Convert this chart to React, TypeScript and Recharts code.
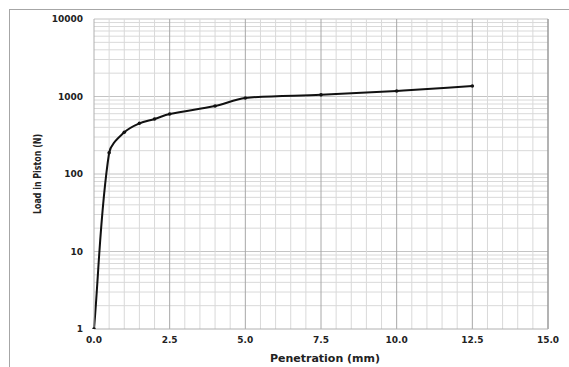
import React from 'react';
import { LineChart, Line, XAxis, YAxis, ReferenceLine } from 'recharts';

const penetration = [0, 0.5, 1.0, 1.5, 2.0, 2.5, 4.0, 5.0, 7.5, 10.0, 12.5];
const load = [1, 188, 345, 451, 513, 594, 754, 956, 1050, 1178, 1365];

const xTicks = [0, 2.5, 5.0, 7.5, 10.0, 12.5, 15.0];
const yTicks = [1, 10, 100, 1000, 10000];
const xMinorGrid = [0.5, 1, 1.5, 2, 3, 3.5, 4, 4.5, 5.5, 6, 6.5, 7, 8, 8.5, 9, 9.5, 10.5, 11, 11.5, 12, 13, 13.5, 14, 14.5];
const xMajorGrid = [2.5, 5, 7.5, 10, 12.5, 15];
const yMinorMultipliers = [2, 3, 4, 5, 6, 7, 8, 9];
const yDecades = [1, 10, 100, 1000];

const data = penetration.map((p, i) => ({ p, load: load[i] }));
const yMinorGrid: number[] = [];
yDecades.forEach((d) => yMinorMultipliers.forEach((m) => yMinorGrid.push(d * m)));

// Excel-style smoothed line: tangent direction from neighbours, control
// distance proportional to each segment's own length (no overshoot).
const smoothCurve: any = (context: any) => {
  let pts: number[][] = [];
  const unit = (a: number[], b: number[]) => {
    const dx = b[0] - a[0];
    const dy = b[1] - a[1];
    const l = Math.hypot(dx, dy) || 1;
    return [dx / l, dy / l];
  };
  return {
    areaStart() {},
    areaEnd() {},
    lineStart() {
      pts = [];
    },
    point(x: number, y: number) {
      pts.push([+x, +y]);
    },
    lineEnd() {
      const n = pts.length;
      if (!n) return;
      const tan = pts.map((_, i) => unit(pts[Math.max(0, i - 1)], pts[Math.min(n - 1, i + 1)]));
      context.moveTo(pts[0][0], pts[0][1]);
      for (let i = 0; i < n - 1; i++) {
        const p1 = pts[i];
        const p2 = pts[i + 1];
        const d = Math.hypot(p2[0] - p1[0], p2[1] - p1[1]) / 3;
        const c1x = p1[0] + tan[i][0] * d;
        const c1y = p1[1] + tan[i][1] * d;
        const c2x = p2[0] - tan[i + 1][0] * d;
        const c2y = p2[1] - tan[i + 1][1] * d;
        context.bezierCurveTo(c1x, c1y, c2x, c2y, p2[0], p2[1]);
      }
    },
  };
};

const tickStyle = { fontFamily: 'DejaVu Sans', fontWeight: 'bold', fontSize: 9, fill: '#222' };

const XLabel = (props: any) => {
  const vb = props.viewBox || {};
  return (
    <text
      x={vb.x + vb.width / 2 + 4}
      y={vb.y + 33}
      textAnchor="middle"
      fontFamily="DejaVu Sans"
      fontWeight="bold"
      fontSize={11}
      fill="#222"
    >
      Penetration (mm)
    </text>
  );
};

const YLabel = (props: any) => {
  const vb = props.viewBox || {};
  const cx = 37;
  const cy = vb.y + vb.height / 2;
  return (
    <text
      x={cx}
      y={cy}
      transform={`rotate(-90, ${cx}, ${cy})`}
      textAnchor="middle"
      dominantBaseline="central"
      fontFamily="DejaVu Sans Condensed"
      fontWeight="bold"
      fontSize={11}
      fill="#222"
      textLength={80}
      lengthAdjust="spacingAndGlyphs"
    >
      Load in Piston (N)
    </text>
  );
};

export default function App() {
  return (
    <div style={{ position: 'absolute', left: 0, top: 0, width: 569, height: 367, background: '#fff' }}>
      <LineChart width={569} height={367} data={data} margin={{ top: 19, right: 21, bottom: 0, left: 0 }}>
        <XAxis
          dataKey="p"
          type="number"
          domain={[0, 15]}
          ticks={xTicks}
          tickFormatter={(v: number) => v.toFixed(1)}
          height={38}
          tickSize={0}
          tickMargin={8}
          tickLine={false}
          axisLine={{ stroke: '#b0b0b0' }}
          tick={tickStyle}
          interval={0}
          label={<XLabel />}
        />
        <YAxis
          dataKey="load"
          scale="log"
          domain={[1, 10000]}
          ticks={yTicks}
          allowDataOverflow
          width={94}
          tickSize={0}
          tickMargin={11}
          tickLine={false}
          axisLine={{ stroke: '#b0b0b0' }}
          tick={tickStyle}
          interval={0}
          label={<YLabel />}
        />
        {yMinorGrid.map((v) => (
          <ReferenceLine key={'ym' + v} y={v} stroke="#d9d9d9" strokeWidth={1} />
        ))}
        {[10, 100, 1000, 10000].map((v) => (
          <ReferenceLine key={'yM' + v} y={v} stroke="#c4c4c4" strokeWidth={1} />
        ))}
        {xMinorGrid.map((v) => (
          <ReferenceLine key={'xm' + v} x={v} stroke="#d9d9d9" strokeWidth={1} />
        ))}
        {xMajorGrid.map((v) => (
          <ReferenceLine key={'xM' + v} x={v} stroke={v === 15 ? '#9a9a9a' : '#a8a8a8'} strokeWidth={v === 15 ? 1.5 : 1} />
        ))}
        <Line
          type={smoothCurve}
          dataKey="load"
          stroke="#111"
          strokeWidth={2}
          dot={{ r: 1.8, fill: '#111', stroke: '#111', strokeWidth: 0 }}
          isAnimationActive={false}
        />
      </LineChart>
      <div
        style={{
          position: 'absolute',
          left: 9,
          top: 9,
          width: 560,
          height: 358,
          borderTop: '1px solid #a6a6a6',
          borderLeft: '1px solid #a6a6a6',
          pointerEvents: 'none',
        }}
      />
    </div>
  );
}
